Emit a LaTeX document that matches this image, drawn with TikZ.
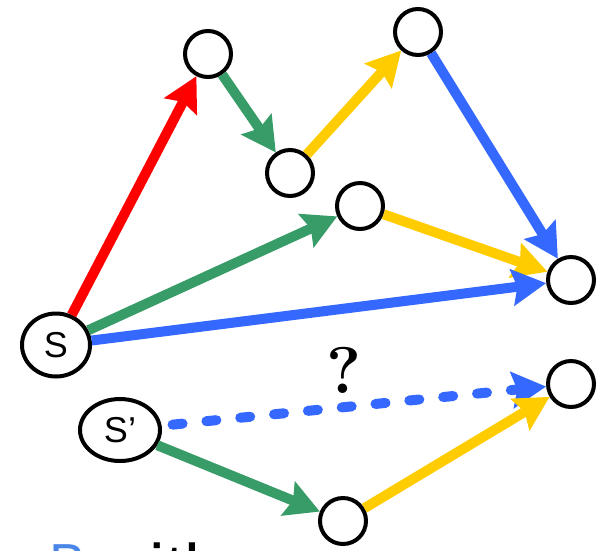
\documentclass[tikz,border=0pt]{standalone}
\usepackage{fontspec}
\newfontfamily\arial{Liberation Sans}
\usetikzlibrary{arrows.meta,shapes.geometric}
\definecolor{cred}{HTML}{FF0000}
\definecolor{cgreen}{HTML}{389C68}
\definecolor{cyellow}{HTML}{FFCC00}
\definecolor{cblue}{HTML}{3468FF}
\definecolor{cbtext}{HTML}{4A86E8}
\begin{document}
\begin{tikzpicture}[x=1pt,y=-1pt,
  vtx/.style={circle,draw=black,line width=4pt,fill=white,minimum size=46pt,inner sep=0pt},
  src/.style={ellipse,draw=black,line width=4pt,fill=white,inner sep=0pt,font=\arial\fontsize{36}{40}\selectfont},
  arr/.style={line width=10pt,-{Stealth[length=34pt,width=36pt,inset=5pt]}},
  dashedarr/.style={arr,dash pattern=on 10pt off 24pt,dash phase=23pt,line cap=round},
]
\useasboundingbox (0,0) rectangle (604,550);
% nodes
\node[src,minimum width=68pt,minimum height=63pt] (s) at (56,345) {S};
\node[src,minimum width=80pt,minimum height=62pt] (s2) at (120,430) {S’};
\node[vtx] (a) at (208,54) {};
\node[vtx] (b) at (290,173) {};
\node[vtx] (c) at (418,32) {};
\node[vtx] (d) at (360,206) {};
\node[vtx] (t) at (571,280) {};
\node[vtx] (t2) at (571,384) {};
\node[vtx] (e) at (343,521) {};
% edges
\draw[arr,cred] (s) -- (a);
\draw[arr,cgreen] (a) -- (b);
\draw[arr,cyellow] (b) -- (c);
\draw[arr,cblue] (c) -- (t);
\draw[arr,cgreen] (s) -- (d);
\draw[arr,cyellow] (d) -- (t);
\draw[arr,cblue] (s) -- (t);
\draw[dashedarr,cblue] (s2) -- (t2);
\draw[arr,cgreen] (s2) -- (e);
\draw[arr,cyellow] (e) -- (t2);
% label
\node[anchor=base,inner sep=0pt,font=\bfseries\fontsize{66}{70}\selectfont] (q) at (344,393) {?};
% cropped text at the bottom
\begin{scope}
\clip (0,0) rectangle (604,550);
\node[anchor=base west,inner sep=0pt,text=cbtext,font=\arial\fontsize{55}{60}\selectfont] (bt) at (49,582) {B};
\node[anchor=base west,inner sep=0pt,font=\arial\fontsize{70}{80}\selectfont] (wt) at (99,593) {with};
\end{scope}
\end{tikzpicture}
\end{document}
